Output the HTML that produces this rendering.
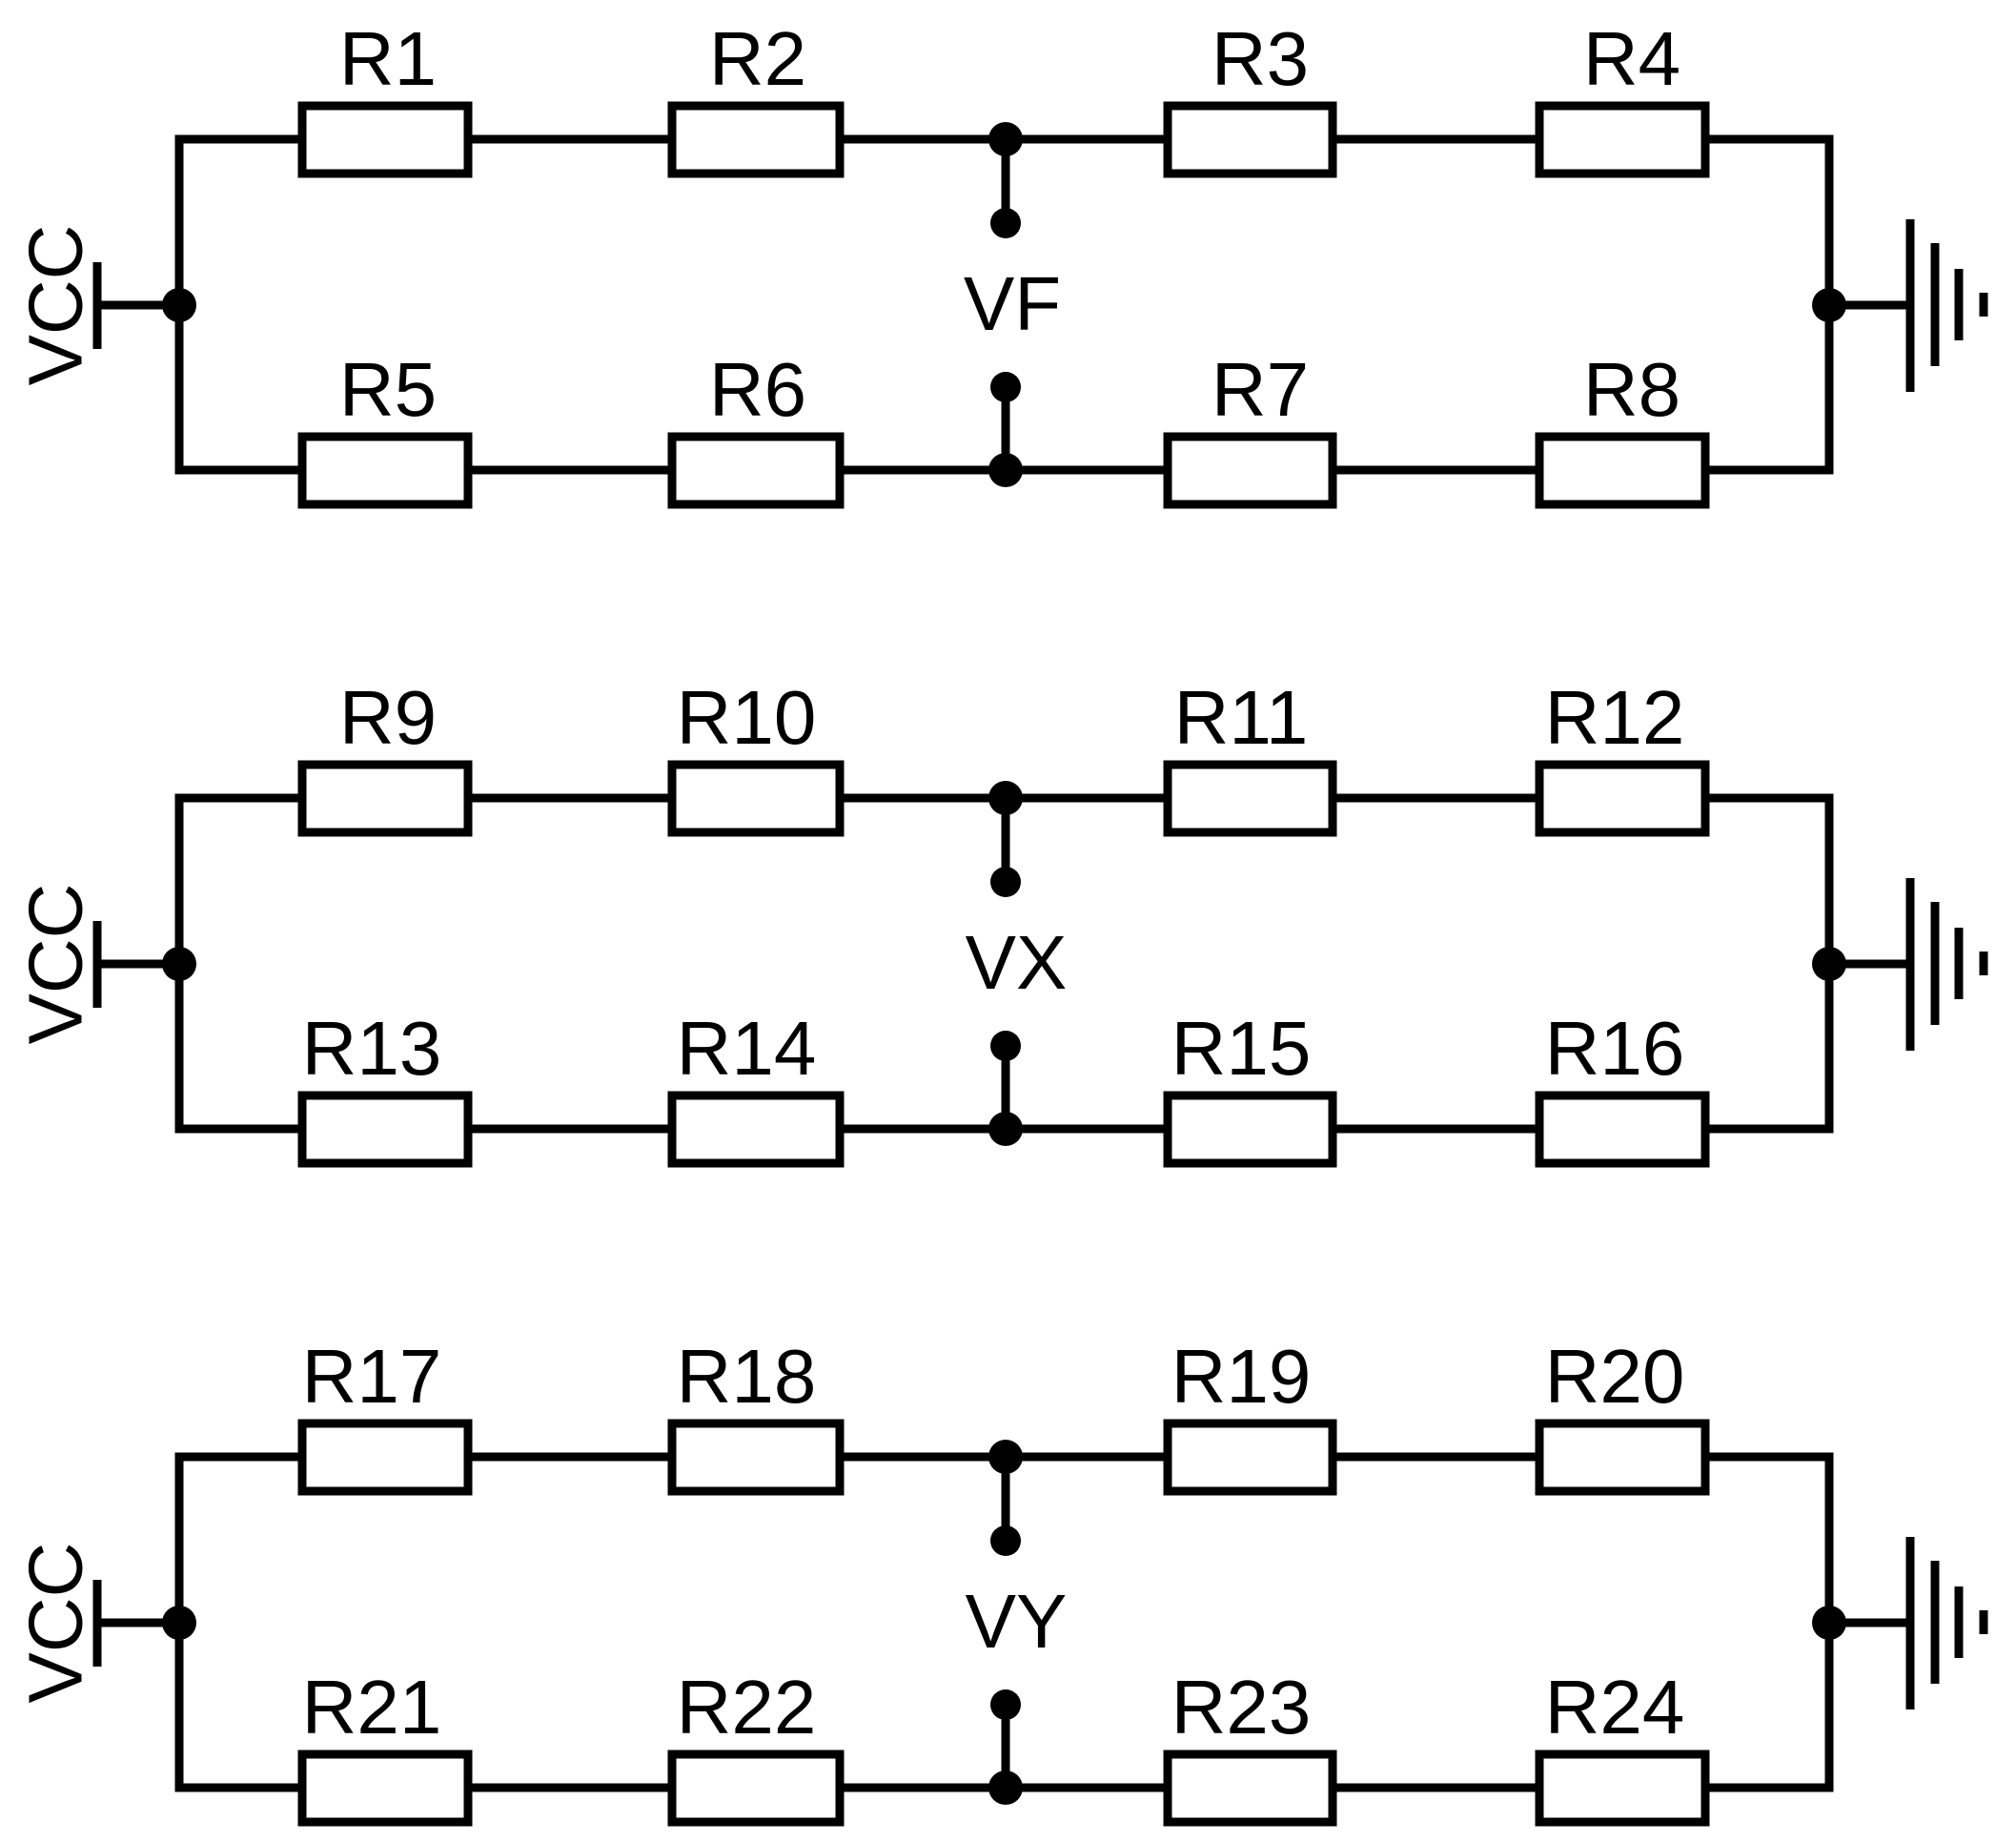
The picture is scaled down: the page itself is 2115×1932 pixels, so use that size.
<!DOCTYPE html>
<html><head><style>html,body{margin:0;padding:0;background:#fff}svg{display:block}</style></head>
<body>
<svg width="2115" height="1932" viewBox="0 0 2115 1932" xmlns="http://www.w3.org/2000/svg" font-family="Liberation Sans, Arial, sans-serif" font-size="80" fill="#000">
<defs>
<g id="row">
  <g stroke="#000" stroke-width="9" fill="none">
    <polyline points="317,0 188,0 188,347 317,347"/>
    <line x1="491" y1="0" x2="705" y2="0"/>
    <line x1="881" y1="0" x2="1225" y2="0"/>
    <line x1="1398" y1="0" x2="1615" y2="0"/>
    <polyline points="1789,0 1919,0 1919,347 1789,347"/>
    <line x1="491" y1="347" x2="705" y2="347"/>
    <line x1="881" y1="347" x2="1225" y2="347"/>
    <line x1="1398" y1="347" x2="1615" y2="347"/>
    <rect x="317" y="-35" width="174" height="71" fill="#fff"/>
    <rect x="705" y="-35" width="176" height="71" fill="#fff"/>
    <rect x="1225" y="-35" width="173" height="71" fill="#fff"/>
    <rect x="1615" y="-35" width="174" height="71" fill="#fff"/>
    <rect x="317" y="312" width="174" height="71" fill="#fff"/>
    <rect x="705" y="312" width="176" height="71" fill="#fff"/>
    <rect x="1225" y="312" width="173" height="71" fill="#fff"/>
    <rect x="1615" y="312" width="174" height="71" fill="#fff"/>
    <line x1="1055" y1="0" x2="1055" y2="88"/>
    <line x1="1055" y1="260" x2="1055" y2="347"/>
    <line x1="102" y1="174" x2="188" y2="174"/>
    <line x1="102" y1="129" x2="102" y2="220"/>
    <line x1="1919" y1="174" x2="2004" y2="174"/>
    <line x1="2004" y1="84" x2="2004" y2="265"/>
    <line x1="2030" y1="109" x2="2030" y2="238"/>
    <line x1="2055" y1="136" x2="2055" y2="211"/>
    <line x1="2081" y1="161" x2="2081" y2="186"/>
  </g>
  <circle cx="1055" cy="0" r="18"/>
  <circle cx="1055" cy="347" r="18"/>
  <circle cx="1055" cy="88" r="16"/>
  <circle cx="1055" cy="260" r="16"/>
  <circle cx="188" cy="174" r="18"/>
  <circle cx="1919" cy="174" r="18"/>
  <text x="58" y="174" transform="rotate(-90 58 174)" text-anchor="middle" dominant-baseline="central">VCC</text>
</g>
</defs>
<g transform="translate(0,146)">
  <use href="#row"/>
  <g text-anchor="middle">
    <text x="407" y="-57">R1</text><text x="795" y="-57">R2</text><text x="1322" y="-57">R3</text><text x="1712" y="-57">R4</text>
    <text x="407" y="290">R5</text><text x="795" y="290">R6</text><text x="1322" y="290">R7</text><text x="1712" y="290">R8</text>
    <text x="1062" y="200">VF</text>
  </g>
</g>
<g transform="translate(0,837)">
  <use href="#row"/>
  <g text-anchor="middle">
    <text x="407" y="-57">R9</text><text x="783" y="-57">R10</text><text x="1302" y="-57">R11</text><text x="1694" y="-57">R12</text>
    <text x="390" y="290">R13</text><text x="783" y="290">R14</text><text x="1302" y="290">R15</text><text x="1694" y="290">R16</text>
    <text x="1066" y="200">VX</text>
  </g>
</g>
<g transform="translate(0,1528)">
  <use href="#row"/>
  <g text-anchor="middle">
    <text x="390" y="-57">R17</text><text x="783" y="-57">R18</text><text x="1302" y="-57">R19</text><text x="1694" y="-57">R20</text>
    <text x="390" y="290">R21</text><text x="783" y="290">R22</text><text x="1302" y="290">R23</text><text x="1694" y="290">R24</text>
    <text x="1066" y="200">VY</text>
  </g>
</g>
</svg>
</body></html>
